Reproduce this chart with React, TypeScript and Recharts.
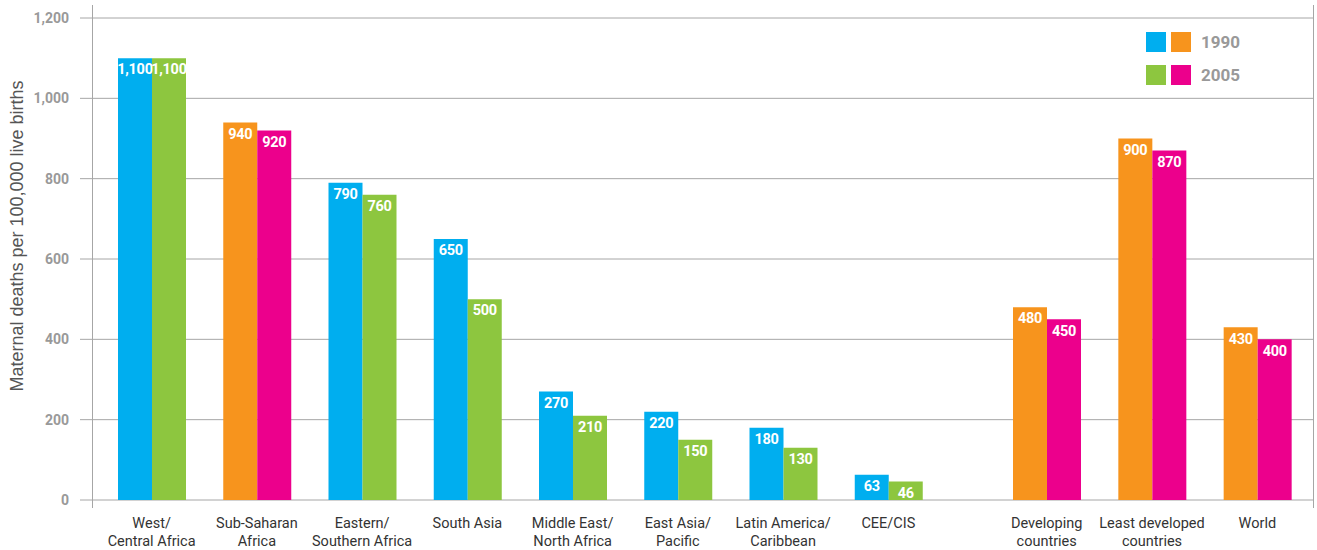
import React from "react";
import { BarChart, Bar, XAxis, YAxis, CartesianGrid, LabelList, Cell } from "recharts";

// Maternal mortality ratio, deaths per 100,000 live births
const regionNames = [
  "West/\nCentral Africa",
  "Sub-Saharan\nAfrica",
  "Eastern/\nSouthern Africa",
  "South Asia",
  "Middle East/\nNorth Africa",
  "East Asia/\nPacific",
  "Latin America/\nCaribbean",
  "CEE/CIS",
];
const region1990 = [1100, 940, 790, 650, 270, 220, 180, 63];
const region2005 = [1100, 920, 760, 500, 210, 150, 130, 46];

const summaryNames = ["Developing\ncountries", "Least developed\ncountries", "World"];
const summary1990 = [480, 900, 430];
const summary2005 = [450, 870, 400];

// Sub-Saharan Africa is itself an aggregate, so it takes the aggregate colours
const aggregateRegions = ["Sub-Saharan\nAfrica"];

const yTicks = [0, 200, 400, 600, 800, 1000, 1200];

const BLUE = "#00aeef";
const GREEN = "#8dc63f";
const ORANGE = "#f7941d";
const MAGENTA = "#ec008c";
const GRID = "#a6a6a6";
const FONT = "Roboto, 'Liberation Sans', Arial, sans-serif";

const regionData = regionNames.map((name, i) => ({ name, y1990: region1990[i], y2005: region2005[i] }));
const summaryData = summaryNames.map((name, i) => ({ name, y1990: summary1990[i], y2005: summary2005[i] }));

const fmt = (v: any) => Number(v).toLocaleString("en-US");

const valueLabel = {
  position: "insideTop" as const,
  offset: 6,
  fill: "#ffffff",
  fontSize: 14.5,
  fontWeight: 700,
  fontFamily: FONT,
  letterSpacing: -0.3,
  formatter: fmt,
};

function CategoryTick({ x, y, payload }: any) {
  const lines = String(payload.value).split("\n");
  return (
    <text x={x} y={y + 20} textAnchor="middle" fill="#333" fontSize={14.5} fontFamily={FONT}>
      {lines.map((l, i) => (
        <tspan key={i} x={x} dy={i === 0 ? 0 : 18}>
          {l}
        </tspan>
      ))}
    </text>
  );
}

function AxisTitle({ viewBox }: any) {
  const x = viewBox.x + 23;
  const y = viewBox.y + viewBox.height / 2 - 23;
  return (
    <text
      x={x}
      y={y}
      transform={`rotate(-90, ${x}, ${y})`}
      textAnchor="middle"
      fill="#555"
      fontSize={18}
      fontFamily="'Liberation Sans', Arial, sans-serif"
    >
      Maternal deaths per 100,000 live births
    </text>
  );
}

const legendRows = [
  { label: "1990", colors: [BLUE, ORANGE] },
  { label: "2005", colors: [GREEN, MAGENTA] },
];

function YearLegend() {
  return (
    <div style={{ position: "absolute", left: 1146, top: 32, fontFamily: FONT }}>
      {legendRows.map((row) => (
        <div key={row.label} style={{ display: "flex", alignItems: "center", height: 20, marginBottom: 13 }}>
          {row.colors.map((c) => (
            <span key={c} style={{ width: 20, height: 20, background: c, marginRight: 5, display: "inline-block" }} />
          ))}
          <span style={{ marginLeft: 5, fontSize: 17, fontWeight: 700, color: "#999" }}>{row.label}</span>
        </div>
      ))}
    </div>
  );
}

const frameLine = (left: number): React.CSSProperties => ({
  position: "absolute",
  left,
  top: 5,
  width: 1,
  height: 503,
  background: GRID,
});

export default function App() {
  const regionFill = (name: string, year: "1990" | "2005") => {
    const agg = aggregateRegions.includes(name);
    if (year === "1990") return agg ? ORANGE : BLUE;
    return agg ? MAGENTA : GREEN;
  };

  return (
    <div style={{ position: "absolute", left: 0, top: 0, width: 1317, height: 550, background: "#fff" }}>
      <div style={{ position: "absolute", left: 0, top: 0 }}>
        <BarChart width={967} height={550} data={regionData} margin={{ top: 18, right: 0, bottom: 0, left: 0 }} barGap={0} barSize={34}>
          <CartesianGrid vertical={false} stroke={GRID} />
          <XAxis
            dataKey="name"
            height={50}
            axisLine={false}
            tickLine={false}
            interval={0}
            padding={{ left: 7, right: 26 }}
            tick={<CategoryTick />}
          />
          <YAxis
            width={92}
            domain={[0, 1200]}
            ticks={yTicks}
            axisLine={false}
            tickSize={12}
            tickMargin={11}
            tickLine={{ stroke: GRID }}
            tickFormatter={fmt}
            tick={{ fill: "#999", fontSize: 14, fontWeight: 700, fontFamily: FONT }}
            label={<AxisTitle />}
          />
          <Bar dataKey="y1990" name="1990" isAnimationActive={false}>
            {regionData.map((d) => (
              <Cell key={d.name} fill={regionFill(d.name, "1990")} />
            ))}
            <LabelList dataKey="y1990" {...valueLabel} />
          </Bar>
          <Bar dataKey="y2005" name="2005" isAnimationActive={false}>
            {regionData.map((d) => (
              <Cell key={d.name} fill={regionFill(d.name, "2005")} />
            ))}
            <LabelList dataKey="y2005" {...valueLabel} />
          </Bar>
        </BarChart>
      </div>
      <div style={{ position: "absolute", left: 967, top: 0 }}>
        <BarChart width={350} height={550} data={summaryData} margin={{ top: 18, right: 4, bottom: 0, left: 0 }} barGap={0} barSize={34}>
          <CartesianGrid vertical={false} stroke={GRID} />
          <XAxis
            dataKey="name"
            height={50}
            axisLine={false}
            tickLine={false}
            interval={0}
            padding={{ left: 27, right: 3 }}
            tick={<CategoryTick />}
          />
          <YAxis hide domain={[0, 1200]} ticks={yTicks} />
          <Bar dataKey="y1990" name="1990" fill={ORANGE} isAnimationActive={false}>
            <LabelList dataKey="y1990" {...valueLabel} />
          </Bar>
          <Bar dataKey="y2005" name="2005" fill={MAGENTA} isAnimationActive={false}>
            <LabelList dataKey="y2005" {...valueLabel} />
          </Bar>
        </BarChart>
      </div>
      <YearLegend />
      <div style={frameLine(92)} />
      <div style={frameLine(1313)} />
    </div>
  );
}
